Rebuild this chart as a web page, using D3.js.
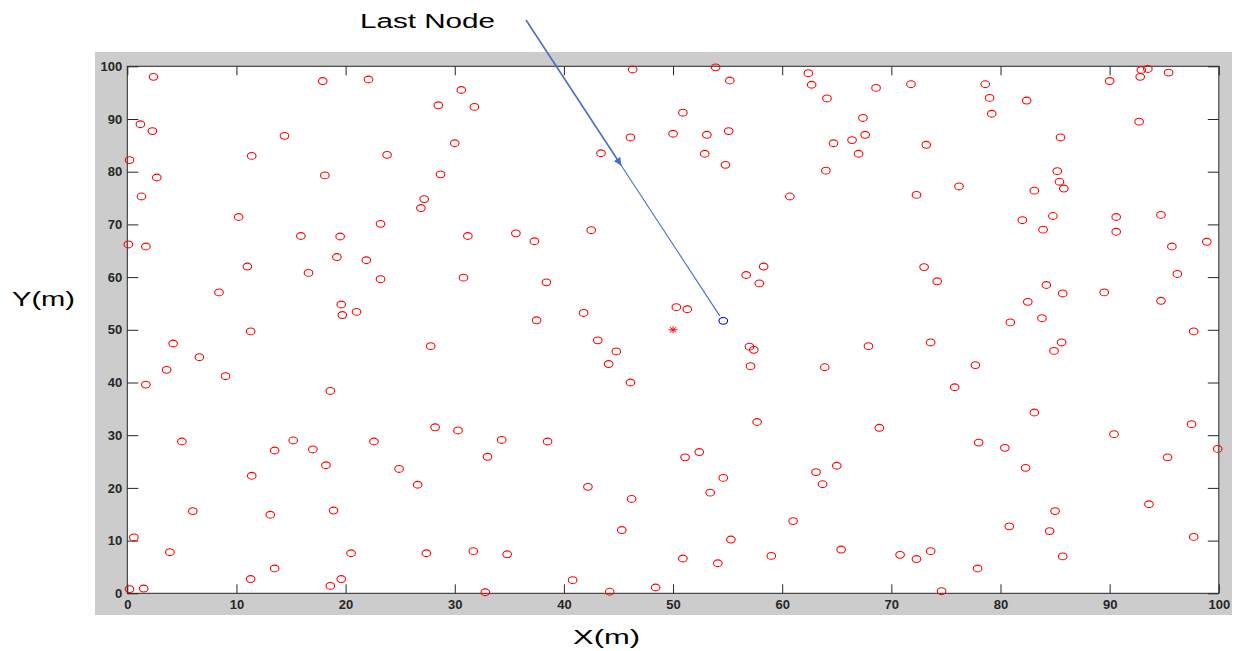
<!DOCTYPE html>
<html>
<head>
<meta charset="utf-8">
<script src="https://cdn.jsdelivr.net/npm/d3@7"></script>
<style>
  html, body { margin: 0; padding: 0; background: #ffffff; }
  svg { display: block; }
</style>
</head>
<body>
<svg id="chart" width="1244" height="651"></svg>
<script>
// ---- data ----
const nodeX = [
  2.4,1.2,2.3,0.2,2.7,1.3,10.2,14.4,11.4,17.9,18.1,22.1,23.8,23.2,15.9,19.5,0.1,1.7,
  30.6,28.5,31.8,30.0,28.7,27.2,26.9,31.2,35.6,37.3,42.5,43.4,46.1,46.3,50.0,
  53.9,55.2,50.9,53.1,55.1,52.9,54.8,60.7,62.4,62.7,64.1,68.6,71.8,67.4,67.6,66.4,64.7,67.0,64.0,73.2,72.3,
  78.6,79.0,79.2,82.4,90.0,92.8,92.9,93.5,95.4,92.7,85.5,85.2,85.4,85.8,83.1,76.2,82.0,84.8,83.9,90.6,90.6,94.7,95.7,98.9,
  11.0,16.6,19.2,21.9,23.2,8.4,19.6,19.7,21.0,11.3,4.2,6.6,3.6,1.7,9.0,18.6,
  30.8,38.4,37.5,41.8,43.1,44.8,44.1,46.1,27.8,
  50.3,51.3,56.7,58.3,57.9,57.0,57.4,57.1,63.9,67.9,57.7,73.0,74.2,73.6,
  84.2,85.7,89.5,96.2,94.7,82.5,83.8,80.9,97.7,85.6,84.9,77.7,75.8,83.1,97.5,
  5.0,11.4,13.5,15.2,17.0,18.2,22.6,24.9,6.0,13.1,18.9,0.6,3.9,20.5,13.5,11.3,19.6,18.6,0.2,1.5,
  26.6,28.2,30.3,34.3,38.5,33.0,42.2,46.2,45.3,27.4,31.7,34.8,40.8,32.8,44.2,48.4,
  68.9,52.4,51.1,54.6,53.4,63.1,65.0,63.7,61.0,55.3,50.9,54.1,59.0,65.4,70.8,72.3,73.6,74.6,
  78.0,80.4,82.3,90.4,95.3,99.9,93.6,85.0,80.8,84.5,97.7,85.7,77.9
];
const nodeY = [
  98.0,89.0,87.7,82.2,78.9,75.3,71.4,86.8,83.0,97.2,79.3,97.5,83.2,70.1,67.8,67.7,66.2,65.8,
  95.5,92.6,92.3,85.4,79.5,74.8,73.1,67.8,68.3,66.8,68.9,83.5,86.5,99.4,87.2,
  99.8,97.3,91.2,87.0,87.7,83.4,81.3,75.3,98.7,96.5,93.9,95.9,96.6,90.2,87.0,86.0,85.4,83.4,80.2,85.1,75.6,
  96.6,94.0,91.0,93.5,97.2,98.0,99.3,99.5,98.8,89.5,86.5,80.1,78.1,76.8,76.4,77.2,70.8,71.6,69.0,71.4,68.6,71.8,65.8,66.7,
  62.0,60.8,63.8,63.2,59.6,57.1,54.8,52.8,53.4,49.7,47.4,44.8,42.4,39.6,41.2,38.4,
  59.9,59.0,51.8,53.2,48.0,45.9,43.5,40.0,46.9,
  54.3,53.9,60.4,62.0,58.8,46.8,46.2,43.1,42.9,46.9,32.5,61.9,59.2,47.6,
  58.5,56.9,57.1,60.6,55.5,55.3,52.2,51.4,49.7,47.6,46.0,43.3,39.1,34.3,32.1,
  28.8,22.3,27.1,29.0,27.3,24.3,28.8,23.6,15.6,14.9,15.7,10.6,7.8,7.6,4.7,2.7,2.7,1.4,0.8,0.9,
  20.6,31.5,30.9,29.1,28.8,25.9,20.2,17.9,12.0,7.6,8.0,7.4,2.5,0.2,0.3,1.1,
  31.4,26.8,25.8,21.9,19.1,23.0,24.2,20.7,13.7,10.2,6.6,5.7,7.1,8.3,7.3,6.5,8.0,0.4,
  28.6,27.6,23.8,30.2,25.8,27.4,16.9,15.6,12.7,11.8,10.7,7.0,4.7
];
const lastNode = [54.6, 51.7];
const baseStation = [50, 50];
const xTicks = [0,10,20,30,40,50,60,70,80,90,100];
const yTicks = [0,10,20,30,40,50,60,70,80,90,100];
const xLabel = "X(m)";
const yLabel = "Y(m)";
const annotationText = "Last Node";

// ---- layout ----
const svg = d3.select("#chart");
const plot = { left: 127.3, right: 1218.8, top: 66.3, bottom: 593.3 };

svg.append("rect").attr("x", 95).attr("y", 52).attr("width", 1137).attr("height", 563)
  .attr("fill", "#cccccc");
svg.append("rect").attr("x", plot.left).attr("y", plot.top)
  .attr("width", plot.right - plot.left).attr("height", plot.bottom - plot.top)
  .attr("fill", "#ffffff");

const x = d3.scaleLinear().domain([0, 100]).range([plot.left, plot.right]);
const y = d3.scaleLinear().domain([0, 100]).range([plot.bottom, plot.top]);

const tickFont = "Liberation Sans, Arial, Helvetica, sans-serif";

function styleAxis(g, labels) {
  g.select(".domain").remove();
  g.selectAll(".tick line").attr("stroke", "#262626").attr("stroke-width", 1);
  g.selectAll(".tick text")
    .attr("fill", "#262626")
    .style("font-family", tickFont)
    .style("font-size", "13px")
    .style("font-weight", "bold");
  if (!labels) g.selectAll(".tick text").remove();
}

svg.append("g").attr("transform", `translate(0,${plot.bottom})`)
  .call(d3.axisBottom(x).tickValues(xTicks).tickSizeInner(-9).tickSizeOuter(0).tickPadding(6))
  .call(g => styleAxis(g, true));
svg.append("g").attr("transform", `translate(0,${plot.top})`)
  .call(d3.axisTop(x).tickValues(xTicks).tickSizeInner(-9).tickSizeOuter(0))
  .call(g => styleAxis(g, false));
svg.append("g").attr("transform", `translate(${plot.left},0)`)
  .call(d3.axisLeft(y).tickValues(yTicks).tickSizeInner(-11).tickSizeOuter(0).tickPadding(5))
  .call(g => styleAxis(g, true));
svg.append("g").attr("transform", `translate(${plot.right},0)`)
  .call(d3.axisRight(y).tickValues(yTicks).tickSizeInner(-11).tickSizeOuter(0))
  .call(g => styleAxis(g, false));

svg.append("rect").attr("x", plot.left).attr("y", plot.top)
  .attr("width", plot.right - plot.left).attr("height", plot.bottom - plot.top)
  .attr("fill", "none").attr("stroke", "#262626").attr("stroke-width", 1);

// ---- nodes ----
const nodes = nodeX.map((v, i) => ({ x: v, y: nodeY[i] }));
svg.append("g").selectAll("ellipse").data(nodes).join("ellipse")
  .attr("cx", d => x(d.x)).attr("cy", d => y(d.y))
  .attr("rx", 4.3).attr("ry", 3.4)
  .attr("fill", "none").attr("stroke", "#ff0000").attr("stroke-width", 1.1);

// last node (blue)
svg.append("ellipse")
  .attr("cx", x(lastNode[0])).attr("cy", y(lastNode[1]))
  .attr("rx", 4.3).attr("ry", 3.4)
  .attr("fill", "none").attr("stroke", "#0000ff").attr("stroke-width", 1.1);

// base station star
const sx = x(baseStation[0]), sy = y(baseStation[1]);
const star = svg.append("g").attr("stroke", "#ff0000").attr("stroke-width", 1);
star.append("line").attr("x1", sx - 4.5).attr("x2", sx + 4.5).attr("y1", sy).attr("y2", sy);
star.append("line").attr("x1", sx).attr("x2", sx).attr("y1", sy - 3.5).attr("y2", sy + 3.5);
star.append("line").attr("x1", sx - 3.2).attr("x2", sx + 3.2).attr("y1", sy - 2.6).attr("y2", sy + 2.6);
star.append("line").attr("x1", sx - 3.2).attr("x2", sx + 3.2).attr("y1", sy + 2.6).attr("y2", sy - 2.6);

// ---- annotation ----
const arrowColor = "#4472c4";
const defs = svg.append("defs");
defs.append("marker").attr("id", "ah").attr("viewBox", "0 0 10 10")
  .attr("refX", 9).attr("refY", 5).attr("markerWidth", 5).attr("markerHeight", 5)
  .attr("markerUnits", "strokeWidth").attr("orient", "auto")
  .append("path").attr("d", "M0,0 L10,5 L0,10 Z").attr("fill", arrowColor);

const a0 = [526, 20];
const a1 = [x(lastNode[0]) - 3.5, y(lastNode[1]) - 5];
const t = 0.49;
const am = [a0[0] + (a1[0] - a0[0]) * t, a0[1] + (a1[1] - a0[1]) * t];
svg.append("line").attr("x1", a0[0]).attr("y1", a0[1]).attr("x2", am[0]).attr("y2", am[1])
  .attr("stroke", arrowColor).attr("stroke-width", 1.6).attr("marker-end", "url(#ah)");
svg.append("line").attr("x1", am[0]).attr("y1", am[1]).attr("x2", a1[0]).attr("y2", a1[1])
  .attr("stroke", arrowColor).attr("stroke-width", 1.1);

const labelFont = "Liberation Sans, Arial, Helvetica, sans-serif";
svg.append("text").attr("x", 360).attr("y", 28)
  .attr("textLength", 135).attr("lengthAdjust", "spacingAndGlyphs")
  .style("font-family", labelFont).style("font-size", "20px").attr("fill", "#000")
  .text(annotationText);
svg.append("text").attr("x", 12).attr("y", 306)
  .attr("textLength", 63).attr("lengthAdjust", "spacingAndGlyphs")
  .style("font-family", labelFont).style("font-size", "20px").attr("fill", "#000")
  .text(yLabel);
svg.append("text").attr("x", 573).attr("y", 644)
  .attr("textLength", 67).attr("lengthAdjust", "spacingAndGlyphs")
  .style("font-family", labelFont).style("font-size", "20px").attr("fill", "#000")
  .text(xLabel);
</script>
</body>
</html>
